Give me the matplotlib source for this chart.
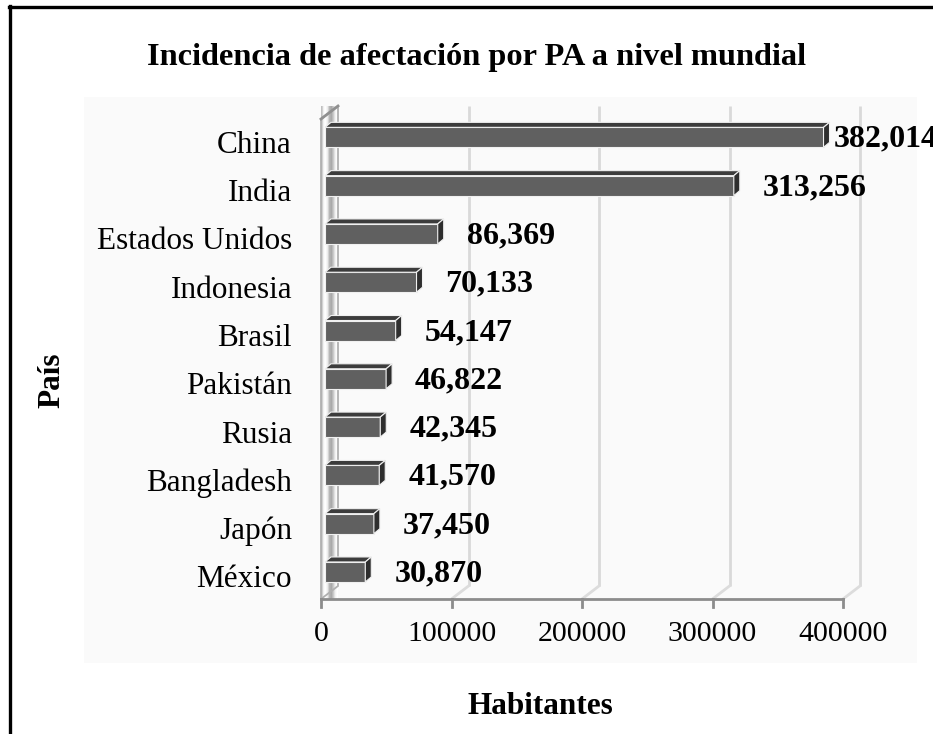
import numpy as np
import matplotlib.pyplot as plt
from matplotlib.patches import Polygon, Rectangle
from matplotlib.lines import Line2D

plt.rcParams['font.family'] = ['Liberation Serif', 'DejaVu Serif']

paises = ['China', 'India', 'Estados Unidos', 'Indonesia', 'Brasil',
          'Pakistán', 'Rusia', 'Bangladesh', 'Japón', 'México']
habitantes = [382014, 313256, 86369, 70133, 54147, 46822, 42345, 41570, 37450, 30870]
ticks = [0, 100000, 200000, 300000, 400000]

W, H = 933, 734
fig = plt.figure(figsize=(W / 100, H / 100), dpi=100)
fig.patch.set_facecolor('white')


def fx(px):
    return px / W


def fy(py):
    return 1 - py / H


# light plot-area backdrop
fig.patches.append(Rectangle((fx(84), fy(663)), (917 - 84) / W, (663 - 97) / H,
                             transform=fig.transFigure, fc='#fafafa', ec='none', zorder=0))
# frame around the figure (left and top only)
fig.add_artist(Line2D([fx(10), fx(10)], [fy(6), 0], lw=2.4, color='black'))
fig.add_artist(Line2D([fx(9), 1], [fy(7), fy(7)], lw=2.4, color='black'))

ax = fig.add_axes([fx(321), fy(599), (843 - 321) / W, (599 - 119) / H])
ax.set_zorder(2)
ax.patch.set_alpha(0)
y0, y1 = -0.56, 9.38
ax.set_xlim(0, 400000)
ax.set_ylim(y0, y1)
for s in ax.spines.values():
    s.set_visible(False)

# pixel -> data conversions for the fake depth
px_x = 400000 / 522
px_y = (y1 - y0) / 480
dep_x, dep_y = 17 * px_x, 13 * px_y

# back-wall gridlines and floor diagonals
for t in ticks[1:]:
    ax.plot([t + dep_x, t + dep_x], [y0 + dep_y, y1 + dep_y], color='#d9d9d9', lw=2,
            clip_on=False, zorder=0.5, solid_capstyle='butt')
    ax.plot([t, t + dep_x], [y0, y0 + dep_y], color='#dcdcdc', lw=2,
            clip_on=False, zorder=0.5)

# left wall slab with a soft cylindrical shading
wall = Polygon([(0, y0), (0, y1), (dep_x, y1 + dep_y), (dep_x, y0 + dep_y)],
               closed=True, fc='none', ec='#b0b0b0', lw=1.3, clip_on=False, zorder=1.2)
ax.add_patch(wall)
shade = np.array([[0.75, 0.98, 1.0, 0.92, 0.72, 0.66, 0.78, 0.94, 1.0]])
im = ax.imshow(shade, cmap='gray', vmin=0, vmax=1, aspect='auto', interpolation='bilinear',
               extent=(0, dep_x, y0, y1 + dep_y), zorder=1.1, clip_on=False)
im.set_clip_path(wall)
ax.plot([0, dep_x], [y1, y1 + dep_y], color='#909090', lw=2, clip_on=False, zorder=1.3)

# floor front edge with tick marks
ax.plot([0, 400000], [y0, y0], color='#8c8c8c', lw=2, clip_on=False, zorder=1.4)
for t in ticks:
    ax.plot([t, t], [y0, y0 - 8 * px_y], color='#8c8c8c', lw=2, clip_on=False, zorder=1.4)

# bars with top face and end cap
n = len(paises)
pos = [n - 1 - i for i in range(n)]
bh = 20 * px_y
left = 4 * px_x
cx, cy = 6 * px_x, 5 * px_y
ax.barh(pos, habitantes, left=left, height=bh, color='#606060', edgecolor='#f0f0f0',
        linewidth=0.8, zorder=3)
for p, v, name in zip(pos, habitantes, paises):
    x1 = left + v
    yt, yb = p + bh / 2, p - bh / 2
    ax.add_patch(Polygon([(left, yt), (x1, yt), (x1 + cx, yt + cy), (left + cx, yt + cy)],
                         closed=True, fc='#3c3c3c', ec='#f0f0f0', lw=0.8, zorder=3.1, clip_on=False))
    ax.add_patch(Polygon([(x1, yb), (x1, yt), (x1 + cx, yt + cy), (x1 + cx, yb + cy)],
                         closed=True, fc='#2e2e2e', ec='#f0f0f0', lw=0.8, zorder=3.2, clip_on=False))
    gap = 10 if v == max(habitantes) else 29
    ax.annotate(f'{v:,}', (x1, p), xytext=(gap, -2), textcoords='offset pixels',
                ha='left', va='center', fontsize=23, fontweight='bold',
                annotation_clip=False, zorder=4)
    # category name on the left of the wall
    ax.annotate(name, (0, p), xycoords=('axes fraction', 'data'), xytext=(-29, -8),
                textcoords='offset pixels', ha='right', va='center', fontsize=22.5,
                annotation_clip=False)

ax.set_yticks([])
ax.set_xticks(ticks)
ax.set_xticklabels([str(t) for t in ticks], fontsize=21.5)
ax.tick_params(axis='x', length=0, pad=16)

fig.text(fx(476), fy(58), 'Incidencia de afectación por PA a nivel mundial',
         ha='center', va='center', fontsize=23.3, fontweight='bold')
fig.text(fx(540), fy(706), 'Habitantes', ha='center', va='center',
         fontsize=22.5, fontweight='bold')
fig.text(fx(52), fy(380), 'País', ha='center', va='center', rotation=90,
         fontsize=22.5, fontweight='bold')

fig.savefig('out.png', dpi=100)
